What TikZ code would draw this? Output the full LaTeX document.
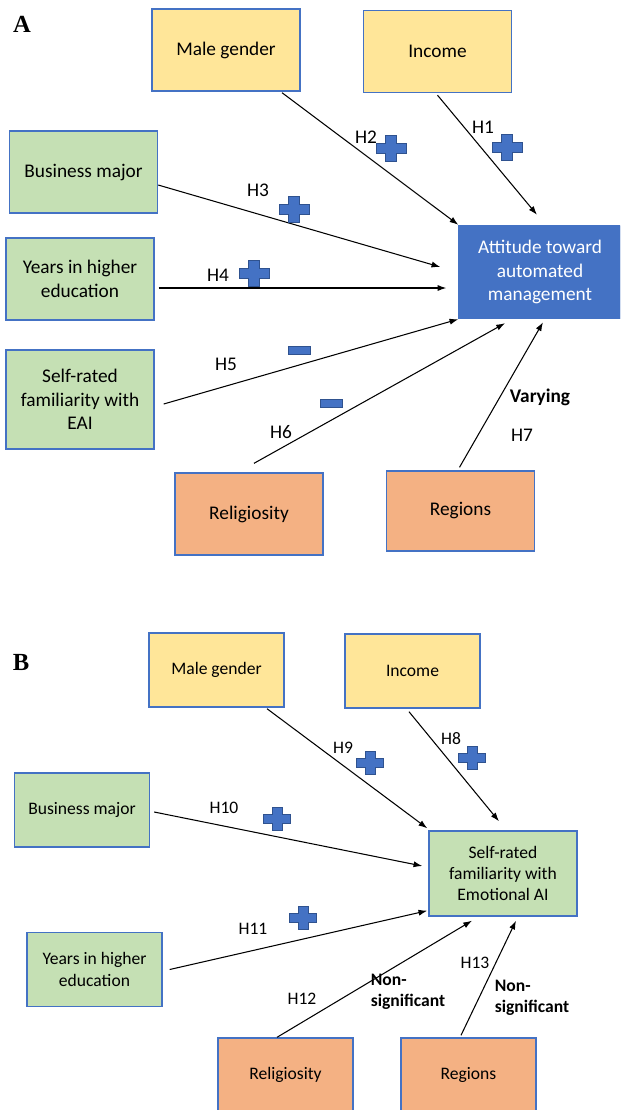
\documentclass[tikz,border=0pt]{standalone}
\usepackage{fontspec}
\setmainfont{Carlito}
\newfontfamily\panelfont{Liberation Serif}
\usepackage{tikz}
\usetikzlibrary{calc}
\usetikzlibrary{arrows.meta}
\usetikzlibrary{positioning}

\definecolor{officeblue}{HTML}{4472C4}
\definecolor{darkblue}{HTML}{2F528F}
\definecolor{boxyellow}{HTML}{FFE699}
\definecolor{boxgreen}{HTML}{C5E0B4}
\definecolor{boxorange}{HTML}{F4B183}

\tikzset{
    box/.style={draw=officeblue, line width=0.8pt, inner sep=1pt, align=center},
    boxa/.style={box, minimum width=2.96cm, minimum height=1.64cm, font=\fontsize{11}{13.3}\selectfont},
    boxb/.style={box, minimum width=2.70cm, minimum height=1.48cm, font=\fontsize{10}{12.2}\selectfont},
    arr/.style={line width=0.6pt, -{Latex[length=5pt,width=3.5pt]}},
    hyp/.style={inner sep=0pt, font=\fontsize{11}{13}\selectfont},
    hypb/.style={inner sep=0pt, font=\fontsize{10}{12}\selectfont},
    sigfill/.style={fill=officeblue, draw=darkblue, line width=0.4pt},
    posmark/.pic={
        \filldraw[sigfill] (-15,-5)--(-5.5,-5)--(-5.5,-13)--(5.5,-13)--(5.5,-5)--(15,-5)
            --(15,5)--(5.5,5)--(5.5,13)--(-5.5,13)--(-5.5,5)--(-15,5)--cycle;
    },
    negmark/.pic={
        \filldraw[sigfill] (-11,-4) rectangle (11,4);
    },
}

\begin{document}
\begin{tikzpicture}[x=0.02cm,y=-0.02cm]
    \useasboundingbox (0,0) rectangle (620,1110);
    \clip (0,0) rectangle (620,1110);

    % panel A
    \node[inner sep=0pt, font=\panelfont\bfseries\fontsize{14}{14}\selectfont] (lblA) at (22,24) {A};
    \node[boxa, fill=boxyellow] (maleA) at (226,50) {Male gender};
    \node[boxa, fill=boxyellow] (incA) at (437.5,51.5) {Income};
    \node[boxa, fill=boxgreen] (busA) at (83.5,172) {Business major};
    \node[boxa, fill=boxgreen] (yrsA) at (80,279) {Years in higher\\education};
    \node[boxa, fill=boxgreen, minimum height=1.98cm] (eaiA) at (80,399.5) {Self-rated\\familiarity with\\EAI};
    \node[boxa, fill=boxorange] (relA) at (249,514) {Religiosity};
    \node[boxa, fill=boxorange, minimum height=1.6cm] (regA) at (460.5,511) {Regions};
    \node[boxa, fill=officeblue, text=white, minimum width=3.24cm, minimum height=1.86cm] (attA) at (540,272)
        {Attitude toward\\automated\\management};

    \draw[arr] ([shift={(56,1)}]maleA.south) -- (attA.north west);
    \draw[arr] ([shift={(0,2)}]incA.south) -- ([shift={(-3,-10)}]attA.north);
    \draw[arr] ([shift={(0,13)}]busA.east) -- ([shift={(-18,-5)}]attA.west);
    \draw[arr] ([shift={(4,9)}]yrsA.east) -- ([shift={(-12,16)}]attA.west);
    \draw[arr] ([shift={(9,4.5)}]eaiA.east) -- (attA.south west);
    \draw[arr] ([shift={(5,-9)}]relA.north) -- ([shift={(-35,4)}]attA.south);
    \draw[arr] ([shift={(-1,-3)}]regA.north) -- ([shift={(3,3)}]attA.south);

    \node[hyp] (h2) at (366,137) {H2};
    \pic at (391,148) {posmark};
    \node[hyp] (h1) at (483,127) {H1};
    \pic at (507,147) {posmark};
    \node[hyp] (h3) at (258,190) {H3};
    \pic at (294,209) {posmark};
    \node[hyp] (h4) at (218,275) {H4};
    \pic at (254,273) {posmark};
    \node[hyp] (h5) at (226,364) {H5};
    \pic at (299,350) {negmark};
    \node[hyp] (h6) at (281,432) {H6};
    \pic at (331,403) {negmark};
    \node[hyp, font=\fontsize{11}{13}\selectfont\bfseries] (vary) at (540,397) {Varying};
    \node[hyp] (h7) at (522,435) {H7};

    % panel B
    \node[inner sep=0pt, font=\panelfont\bfseries\fontsize{14}{14}\selectfont] (lblB) at (21,662) {B};
    \node[boxb, fill=boxyellow] (maleB) at (216.5,670) {Male gender};
    \node[boxb, fill=boxyellow] (incB) at (412.5,671) {Income};
    \node[boxb, fill=boxgreen] (busB) at (82,810) {Business major};
    \node[boxb, fill=boxgreen] (yrsB) at (94.5,969.5) {Years in higher\\education};
    \node[boxb, fill=boxgreen, minimum width=2.96cm, minimum height=1.70cm] (famB) at (503,873.5)
        {Self-rated\\familiarity with\\Emotional AI};
    \node[boxb, fill=boxorange] (relB) at (285.5,1075) {Religiosity};
    \node[boxb, fill=boxorange] (regB) at (468.5,1075) {Regions};

    \draw[arr] ([shift={(50.5,1)}]maleB.south) -- ([shift={(-1,-2)}]famB.north west);
    \draw[arr] ([shift={(-3.5,3)}]incB.south) -- ([shift={(-4,-9)}]famB.north);
    \draw[arr] ([shift={(4,2)}]busB.east) -- ([shift={(-6,-7.5)}]famB.west);
    \draw[arr] ([shift={(7,0)}]yrsB.east) -- ([shift={(-1,-6)}]famB.south west);
    \draw[arr] ([shift={(-8.5,0)}]relB.north) -- ([shift={(-31,4)}]famB.south);
    \draw[arr] ([shift={(-7.5,-2)}]regB.north) -- ([shift={(13,4)}]famB.south);

    \node[hypb] (h9) at (343,748) {H9};
    \pic[scale=0.9] at (370,763) {posmark};
    \node[hypb] (h8) at (451,739) {H8};
    \pic[scale=0.9] at (472,758) {posmark};
    \node[hypb] (h10) at (224,808) {H10};
    \pic[scale=0.9] at (277,819) {posmark};
    \node[hypb] (h11) at (253,929) {H11};
    \pic[scale=0.9] at (303,918) {posmark};
    \node[hypb] (h12) at (302,999) {H12};
    \node[hypb, font=\fontsize{10}{12.2}\selectfont\bfseries, align=left] (nsig1) at (408,992) {Non-\\significant};
    \node[hypb] (h13) at (475,963) {H13};
    \node[hypb, font=\fontsize{10}{12.2}\selectfont\bfseries, align=left] (nsig2) at (532,998) {Non-\\significant};
\end{tikzpicture}
\end{document}
